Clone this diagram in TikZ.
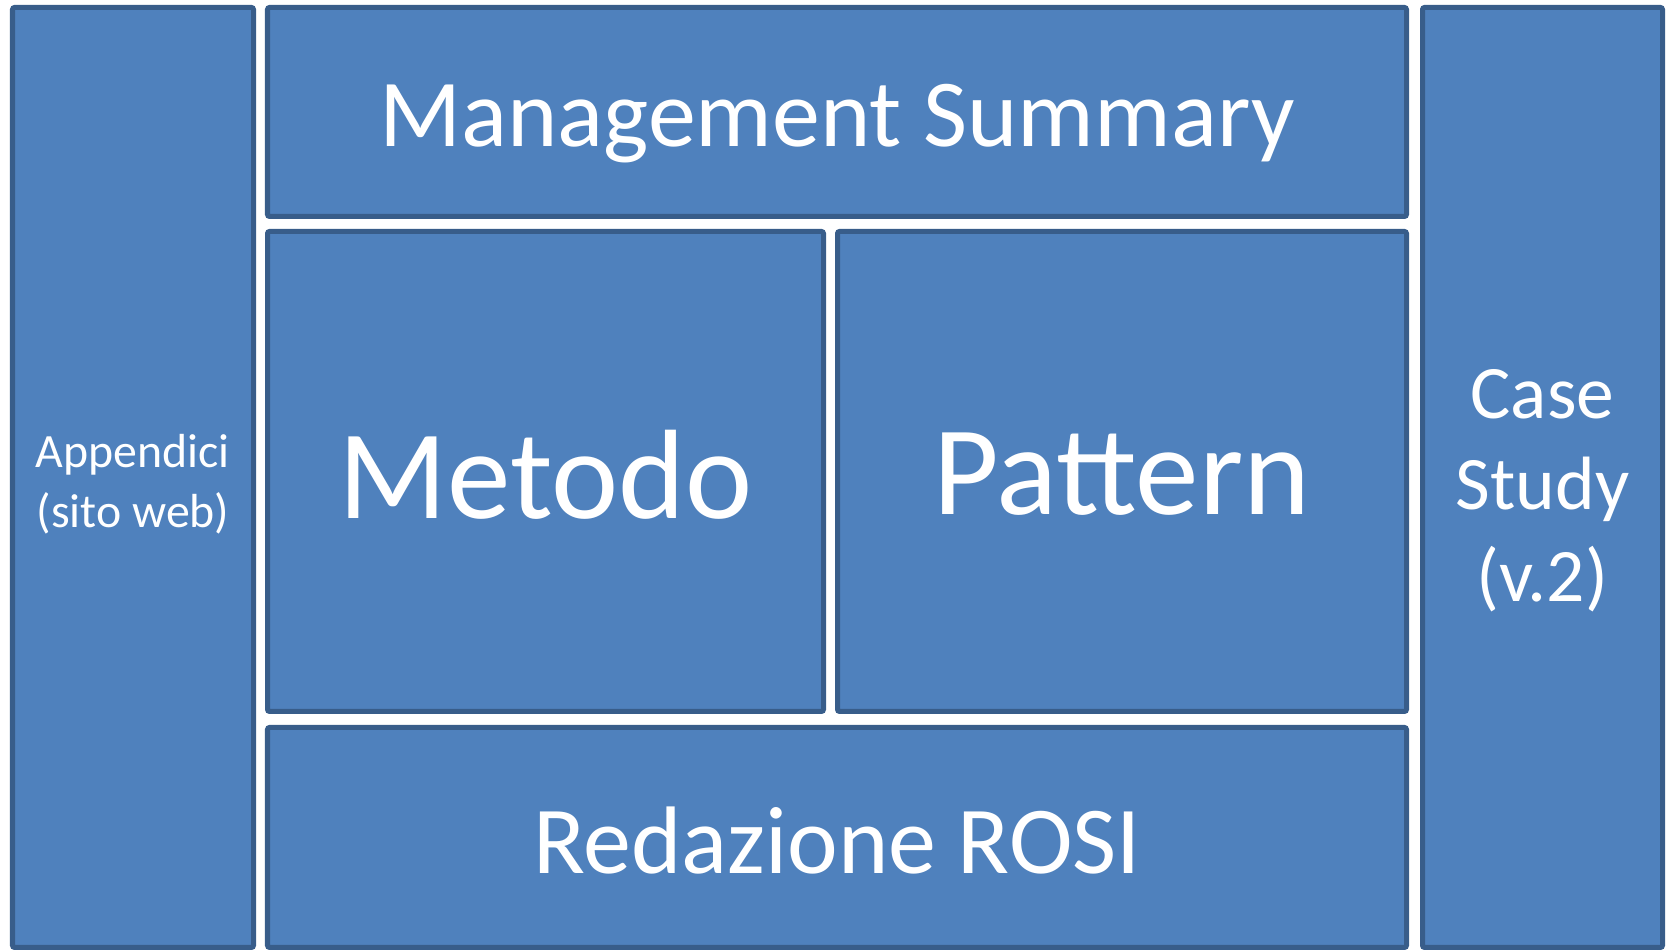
\documentclass[tikz,border=0pt]{standalone}
\usepackage{fontspec}
\setmainfont{Carlito}
\usepackage{tikz}

\definecolor{boxfill}{HTML}{4F81BD}
\definecolor{boxline}{HTML}{385D8A}
\tikzset{blk/.style={draw=boxline, fill=boxfill, line width=0.05cm, rounded corners=0.6pt, inner sep=0pt},
  lbl/.style={text=white, align=center, inner sep=0pt}}

\begin{document}
\begin{tikzpicture}
\useasboundingbox (0,0) rectangle (16.67,9.51);
\node[blk, minimum width=2.41cm, minimum height=9.40cm,
  label={[lbl, yshift=-0.07cm, font=\fontsize{13.6}{17}\selectfont]center:Appendici\\(sito web)}] (App) at (1.33,4.735) {};
\node[blk, minimum width=11.39cm, minimum height=2.09cm,
  label={[lbl, yshift=-0.12cm, font=\fontsize{27.3}{32}\selectfont]center:Management Summary}] (MS) at (8.37,8.39) {};
\node[blk, minimum width=5.56cm, minimum height=4.80cm,
  label={[lbl, yshift=-0.03cm, font=\fontsize{36.2}{43}\selectfont]center:Metodo}] (Met) at (5.455,4.795) {};
\node[blk, minimum width=5.69cm, minimum height=4.80cm,
  label={[lbl, yshift=-0.03cm, font=\fontsize{36.2}{43}\selectfont]center:Pattern}] (Pat) at (11.22,4.795) {};
\node[blk, minimum width=11.39cm, minimum height=2.20cm,
  label={[lbl, yshift=-0.03cm, font=\fontsize{27.3}{32}\selectfont]center:Redazione ROSI}] (Rosi) at (8.37,1.135) {};
\node[blk, minimum width=2.40cm, minimum height=9.40cm,
  label={[lbl, yshift=-0.13cm, font=\fontsize{21.5}{26}\selectfont]center:Case\\Study\\(v.2)}] (Case) at (15.425,4.735) {};
\end{tikzpicture}
\end{document}
